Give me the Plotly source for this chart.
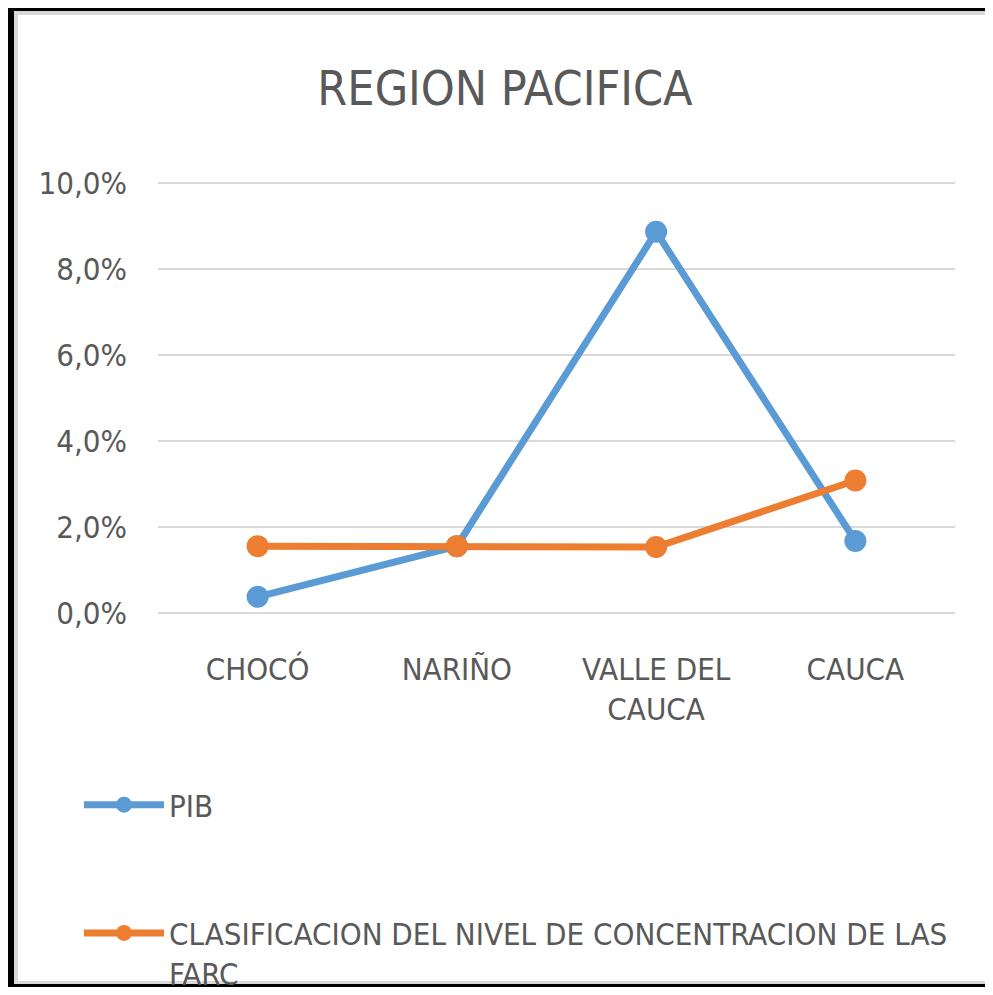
import plotly.graph_objects as go

# data
departamentos = ["CHOCÓ", "NARIÑO", "VALLE DEL<br>CAUCA", "CAUCA"]
pib = [0.0037, 0.0155, 0.0887, 0.0167]
farc = [0.0155, 0.0155, 0.0153, 0.0308]
y_ticks = [0.0, 0.02, 0.04, 0.06, 0.08, 0.10]

FONT = "DejaVu Sans Condensed, Liberation Sans Narrow, Arial Narrow, sans-serif"
GREY_TXT = "#595959"

# the page body has an 8px margin, so the figure is a bit smaller than the window
W, H = 985, 979
L, R, T, B = 150, 38, 174, 373  # plot area margins in px

def px_x(p):
    return (p - L) / (W - L - R)

def px_y(p):
    return (H - B - p) / (H - T - B)

fig = go.Figure()
fig.add_trace(go.Scatter(
    x=departamentos, y=pib, name="PIB", mode="lines+markers", legendgroup="a",
    line=dict(color="#5B9BD5", width=7), marker=dict(size=22, color="#5B9BD5"),
))
fig.add_trace(go.Scatter(
    x=departamentos, y=farc, mode="lines+markers", legendgroup="b",
    name="CLASIFICACION DEL NIVEL DE CONCENTRACION DE LAS<br>FARC",
    line=dict(color="#ED7D31", width=7), marker=dict(size=22, color="#ED7D31"),
))

# frame around the chart (black screenshot edge + light grey chart border)
frame = [
    (-3, -5, 985, 3, "black"),
    (-3, -5, 6, 979, "black"),
    (-3, 976, 985, 979, "black"),
    (6, 3, 985, 7, "#D9D9D9"),
    (6, 3, 10, 976, "#D9D9D9"),
    (6, 973, 985, 976, "#D9D9D9"),
]
for x0, y0, x1, y1, c in frame:
    fig.add_shape(type="rect", xref="paper", yref="paper",
                  x0=px_x(x0), x1=px_x(x1), y0=px_y(y0), y1=px_y(y1),
                  fillcolor=c, line_width=0, layer="above")

fig.update_layout(
    width=W, height=H,
    margin=dict(l=L, r=R, t=T, b=B, autoexpand=False),
    paper_bgcolor="white", plot_bgcolor="white",
    separators=",.",
    font=dict(family=FONT, color=GREY_TXT, size=31),
    title=dict(text="REGION PACIFICA", font=dict(size=48, color=GREY_TXT),
               xref="container", x=497 / W, xanchor="center",
               yref="container", y=1 - 80 / H, yanchor="middle"),
    showlegend=True,
    legend=dict(xref="container", x=71 / W, xanchor="left",
                yref="container", y=1 - 770 / H, yanchor="top",
                orientation="v", tracegroupgap=85, valign="top",
                itemwidth=80, font=dict(size=31, color=GREY_TXT),
                bgcolor="rgba(0,0,0,0)"),
)
fig.update_xaxes(range=[-0.5, 3.5], showgrid=False, showline=False, zeroline=False,
                 ticks="", ticklabelstandoff=34, tickfont=dict(size=31, color=GREY_TXT))
fig.update_yaxes(range=[-0.0003, 0.1003], tickvals=y_ticks, tickformat=".1%",
                 showgrid=True, gridcolor="#D9D9D9", gridwidth=2,
                 showline=False, zeroline=False, ticks="", ticklabelstandoff=30,
                 tickfont=dict(size=31, color=GREY_TXT))

fig.write_html("out.html")
